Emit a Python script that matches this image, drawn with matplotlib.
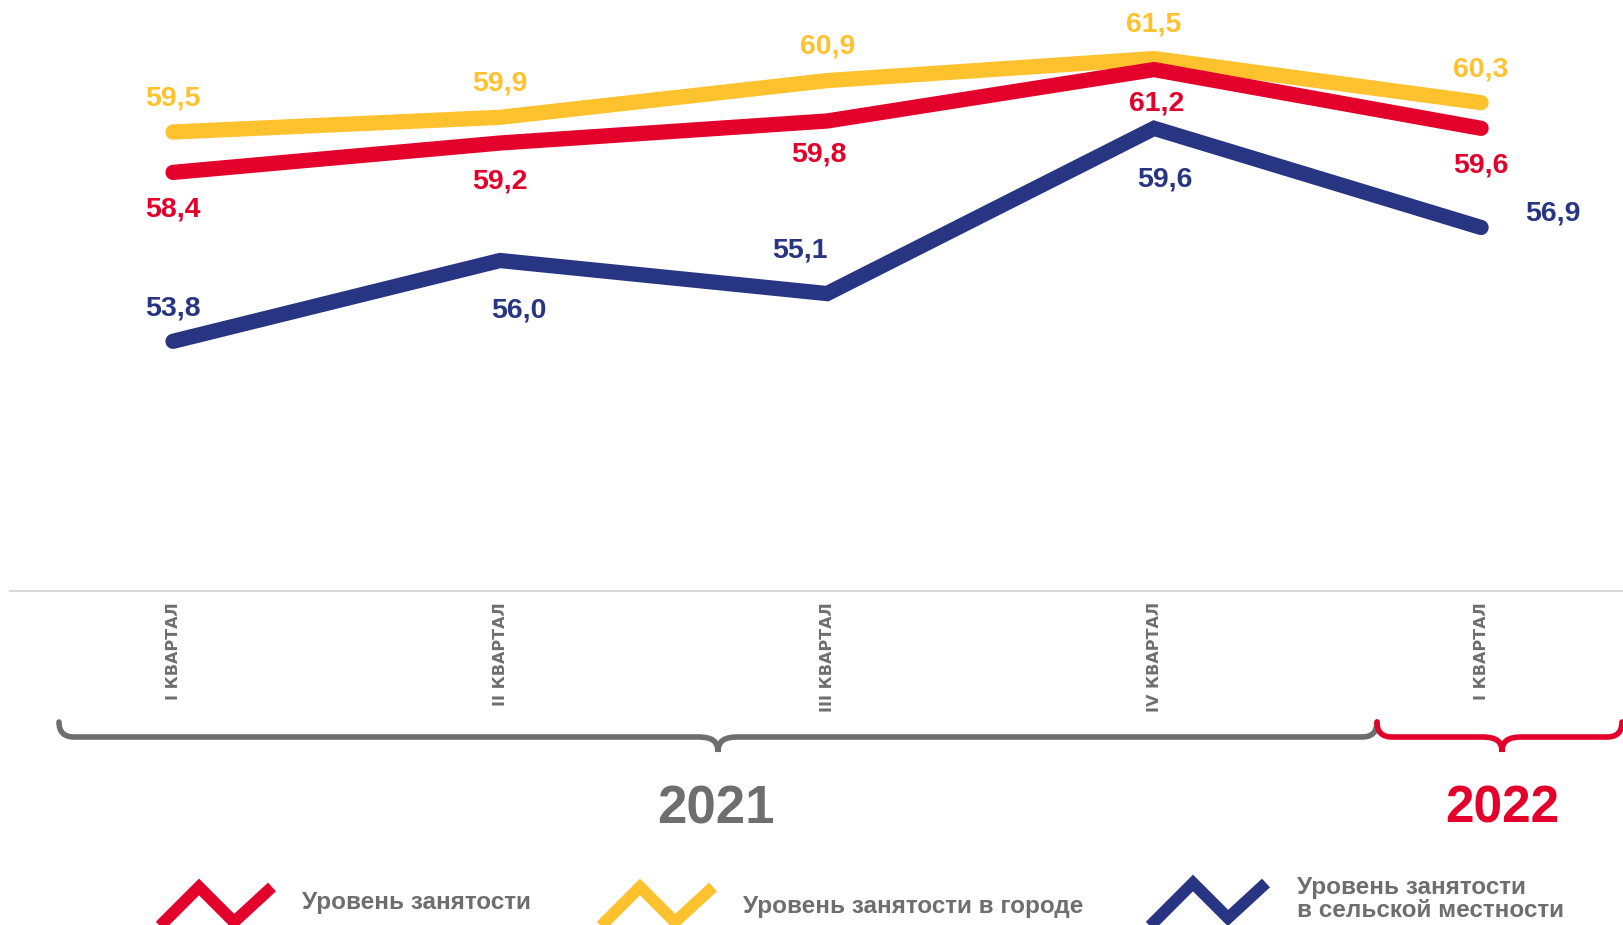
"""Employment rate by quarter, 2021 - I quarter 2022 (total / urban / rural)."""
import matplotlib
matplotlib.use("Agg")
import matplotlib.pyplot as plt
from matplotlib.path import Path
from matplotlib.patches import PathPatch

QUARTERS = ["I КВАРТАЛ", "II КВАРТАЛ", "III КВАРТАЛ", "IV КВАРТАЛ", "I КВАРТАЛ"]
TOTAL = [58.4, 59.2, 59.8, 61.2, 59.6]
URBAN = [59.5, 59.9, 60.9, 61.5, 60.3]
RURAL = [53.8, 56.0, 55.1, 59.6, 56.9]
YEARS = ["2021", "2022"]
NAMES = ["Уровень занятости", "Уровень занятости в городе",
         "Уровень занятости\nв сельской местности"]

RED = "#E3002B"
YELLOW = "#FEC22F"
NAVY = "#283583"
GREY = "#6E6E6E"

# label offsets in pixels (dx, dy with y going down), one per point
OFF_TOTAL = [(0, 37), (0, 38), (-8, 34), (3, 34), (0, 37)]
OFF_URBAN = [(0, -34), (0, -34), (1, -34), (0, -34), (0, -33)]
OFF_RURAL = [(0, -33), (19, 50), (-27, -43), (11, 51), (72, -14)]

W, H = 1624, 925
fig = plt.figure(figsize=(W / 100, H / 100), dpi=100)
ax = fig.add_axes([10 / W, 1 - 591 / H, 1 - 10 / W, 591 / H])
x = list(range(len(QUARTERS)))

for vals, col, offs in [(URBAN, YELLOW, OFF_URBAN),
                        (TOTAL, RED, OFF_TOTAL),
                        (RURAL, NAVY, OFF_RURAL)]:
    ax.plot(x, vals, color=col, lw=11, solid_capstyle="round", solid_joinstyle="miter")
    for xi, v, (dx, dy) in zip(x, vals, offs):
        ax.annotate(f"{v:.1f}".replace(".", ","), (xi, v), xytext=(dx, -dy),
                    textcoords="offset pixels", ha="center", va="center",
                    fontsize=20.5, fontweight="bold", color=col, family="Liberation Sans")

ax.set_xlim(-0.4985, 4.437)
ax.set_ylim(47.0, 63.095)
ax.set_yticks([])
ax.set_xticks(x)
ax.set_xticklabels(QUARTERS, rotation=90, fontsize=11.5, fontweight="bold", color=GREY,
                   family="DejaVu Sans")
ax.tick_params(axis="x", length=0, pad=8)
for s in ["top", "left", "right"]:
    ax.spines[s].set_visible(False)
ax.spines["bottom"].set_color("#d9d9d9")
ax.spines["bottom"].set_linewidth(1.5)

# decorations drawn in figure pixels (y down)
deco = fig.add_axes([0, 0, 1, 1])
deco.set_xlim(0, W)
deco.set_ylim(H, 0)
deco.axis("off")
deco.patch.set_alpha(0)


def brace(x0, x1, xm, color, y=737, r=15, d=15):
    verts = [(x0, y - r), (x0, y), (x0 + r, y),
             (xm - 20, y), (xm - 6, y), (xm, y + 4), (xm, y + d),
             (xm, y + 4), (xm + 6, y), (xm + 20, y),
             (x1 - r, y), (x1, y), (x1, y - r)]
    codes = [Path.MOVETO, Path.CURVE3, Path.CURVE3,
             Path.LINETO, Path.CURVE4, Path.CURVE4, Path.CURVE4,
             Path.CURVE4, Path.CURVE4, Path.CURVE4,
             Path.LINETO, Path.CURVE3, Path.CURVE3]
    deco.add_patch(PathPatch(Path(verts, codes), fill=False, edgecolor=color,
                             lw=4, capstyle="round"))


brace(59, 1377, 718, GREY)
brace(1377, 1622, 1502, RED)
deco.text(716, 809, YEARS[0], ha="center", va="center", fontsize=38, fontweight="bold",
          color=GREY, family="Liberation Sans")
deco.text(1502, 809, YEARS[1], ha="center", va="center", fontsize=37, fontweight="bold",
          color=RED, family="Liberation Sans")

# legend: zigzag icons + labels
for (px, py), col, (tx, ty), name in [((199, 887), RED, (302, 903), NAMES[0]),
                                      ((640, 887), YELLOW, (743, 906), NAMES[1]),
                                      ((1193, 883), NAVY, (1297, 899), NAMES[2])]:
    deco.plot([px - 45, px, px + 35, px + 73], [py + 45, py, py + 35, py],
              color=col, lw=8.5, solid_joinstyle="miter", solid_capstyle="butt")
    deco.text(tx, ty, name, ha="left", va="center", fontsize=17.5, fontweight="bold",
              color=GREY, family="Liberation Sans", linespacing=0.95)

fig.savefig("out.png", dpi=100)
